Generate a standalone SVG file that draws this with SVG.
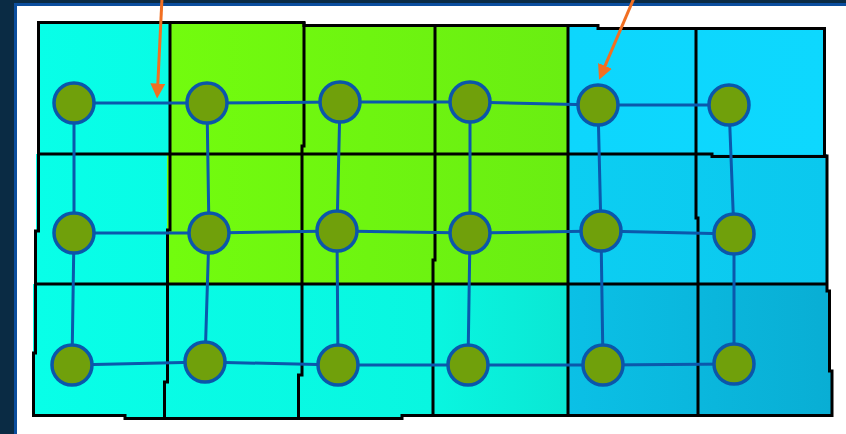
<svg xmlns="http://www.w3.org/2000/svg" width="846" height="434" viewBox="0 0 846 434">
  <defs>
    <linearGradient id="gCyan" gradientUnits="userSpaceOnUse" x1="36" y1="0" x2="830" y2="0">
      <stop offset="0" stop-color="#08FFE8"/>
      <stop offset="0.5" stop-color="#09F6E0"/>
      <stop offset="0.7" stop-color="#0BE4D2"/>
    </linearGradient>
    <linearGradient id="gGreen" gradientUnits="userSpaceOnUse" x1="170" y1="0" x2="568" y2="0">
      <stop offset="0" stop-color="#72FC0E"/>
      <stop offset="1" stop-color="#6AEE12"/>
    </linearGradient>
    <linearGradient id="gBlue1" gradientUnits="userSpaceOnUse" x1="568" y1="0" x2="826" y2="0">
      <stop offset="0" stop-color="#0DD6FD"/>
      <stop offset="1" stop-color="#0DD8FE"/>
    </linearGradient>
    <linearGradient id="gBlue2" gradientUnits="userSpaceOnUse" x1="568" y1="0" x2="828" y2="0">
      <stop offset="0" stop-color="#0CCEF2"/>
      <stop offset="1" stop-color="#0BC8EE"/>
    </linearGradient>
    <linearGradient id="gBlue3" gradientUnits="userSpaceOnUse" x1="568" y1="0" x2="832" y2="0">
      <stop offset="0" stop-color="#0BC0E6"/>
      <stop offset="1" stop-color="#09AED4"/>
    </linearGradient>
    <marker id="arrow" markerUnits="userSpaceOnUse" markerWidth="16" markerHeight="16" refX="1" refY="7.5" orient="auto">
      <path d="M0,0 L15,7.5 L0,15 Z" fill="#F26F22"/>
    </marker>
    <style>
      .grid { fill: none; stroke: #000; stroke-width: 3; stroke-linejoin: miter; }
      .node circle { fill: #70A00B; stroke: #0B56AA; stroke-width: 3.5; }
      .link { stroke: #0B58AC; stroke-width: 3; fill: none; }
      .arr { stroke: #F26F22; stroke-width: 3; fill: none; }
    </style>
  </defs>

  <!-- background frame -->
  <rect x="0" y="0" width="846" height="434" fill="#0A2B44"/>
  <rect x="14" y="3" width="832" height="431" fill="#0B4E9E"/>
  <rect x="17" y="6" width="829" height="428" fill="#FFFFFF"/>

  <!-- cell fills -->
  <g id="cells">
    <rect x="38" y="22" width="132" height="132" fill="url(#gCyan)"/>
    <rect x="170" y="22" width="134" height="132" fill="url(#gGreen)"/>
    <rect x="304" y="25" width="131" height="129" fill="url(#gGreen)"/>
    <rect x="435" y="25" width="133" height="129" fill="url(#gGreen)"/>
    <rect x="568" y="25" width="30" height="129" fill="url(#gBlue1)"/>
    <rect x="598" y="28" width="227" height="128" fill="url(#gBlue1)"/>

    <rect x="36" y="154" width="134" height="130" fill="url(#gCyan)"/>
    <rect x="167" y="154" width="137" height="130" fill="url(#gGreen)"/>
    <rect x="302" y="154" width="133" height="130" fill="url(#gGreen)"/>
    <rect x="433" y="154" width="135" height="130" fill="url(#gGreen)"/>
    <rect x="568" y="154" width="259" height="130" fill="url(#gBlue2)"/>

    <rect x="33" y="284" width="535" height="132" fill="url(#gCyan)"/>
    <rect x="125" y="410" width="277" height="8" fill="url(#gCyan)"/>
    <path d="M568,284 H827 V291 H829.5 V371 H832 V416 H568 Z" fill="url(#gBlue3)"/>
  </g>

  <!-- grid lines -->
  <g id="gridlines" class="grid">
    <path d="M37,22.5 H304 V25.5 H598 V28.5 H824.5 V156 H827 V291 H829.5 V371 H832 V415.5 H402 V418.5 H125 V415.5 H33.5 V353 H35.5 V231 H38.5 V21"/>
    <path d="M38,154 H712 V156.5 H826"/>
    <path d="M36,284 H828"/>
    <path d="M170,22 V230 H167.5 V382 H164.5 V418"/>
    <path d="M304,22 V146 H302 V375 H298.5 V418"/>
    <path d="M435,25 V260 H433 V415"/>
    <path d="M568,25 V415"/>
    <path d="M696,28 V218 H698 V415"/>
  </g>

  <!-- connectors -->
  <g id="connectors" class="link">
    <path d="M74,103 L207,103 L340,102 L470,102 L598,105 L729,105"/>
    <path d="M74,233 L209,233 L337,231 L470,233 L601,231 L734,234"/>
    <path d="M72,365 L205,362 L338,365 L468,365 L603,365 L734,364"/>
    <path d="M74,103 L74,233 L72,365"/>
    <path d="M207,103 L209,233 L205,362"/>
    <path d="M340,102 L337,231 L338,365"/>
    <path d="M470,102 L470,233 L468,365"/>
    <path d="M598,105 L601,231 L603,365"/>
    <path d="M729,105 L734,234 L734,364"/>
  </g>

  <!-- nodes -->
  <g id="n11" class="node"><circle cx="74" cy="103" r="20"/></g>
  <g id="n12" class="node"><circle cx="207" cy="103" r="20"/></g>
  <g id="n13" class="node"><circle cx="340" cy="102" r="20"/></g>
  <g id="n14" class="node"><circle cx="470" cy="102" r="20"/></g>
  <g id="n15" class="node"><circle cx="598" cy="105" r="20"/></g>
  <g id="n16" class="node"><circle cx="729" cy="105" r="20"/></g>
  <g id="n21" class="node"><circle cx="74" cy="233" r="20"/></g>
  <g id="n22" class="node"><circle cx="209" cy="233" r="20"/></g>
  <g id="n23" class="node"><circle cx="337" cy="231" r="20"/></g>
  <g id="n24" class="node"><circle cx="470" cy="233" r="20"/></g>
  <g id="n25" class="node"><circle cx="601" cy="231" r="20"/></g>
  <g id="n26" class="node"><circle cx="734" cy="234" r="20"/></g>
  <g id="n31" class="node"><circle cx="72" cy="365" r="20"/></g>
  <g id="n32" class="node"><circle cx="205" cy="362" r="20"/></g>
  <g id="n33" class="node"><circle cx="338" cy="365" r="20"/></g>
  <g id="n34" class="node"><circle cx="468" cy="365" r="20"/></g>
  <g id="n35" class="node"><circle cx="603" cy="365" r="20"/></g>
  <g id="n36" class="node"><circle cx="734" cy="364" r="20"/></g>

  <!-- arrows -->
  <g id="arrows" class="arr">
    <line x1="162" y1="-2" x2="157.8" y2="84.5" marker-end="url(#arrow)"/>
    <line x1="634" y1="-2" x2="604.6" y2="66.8" marker-end="url(#arrow)"/>
  </g>
</svg>
